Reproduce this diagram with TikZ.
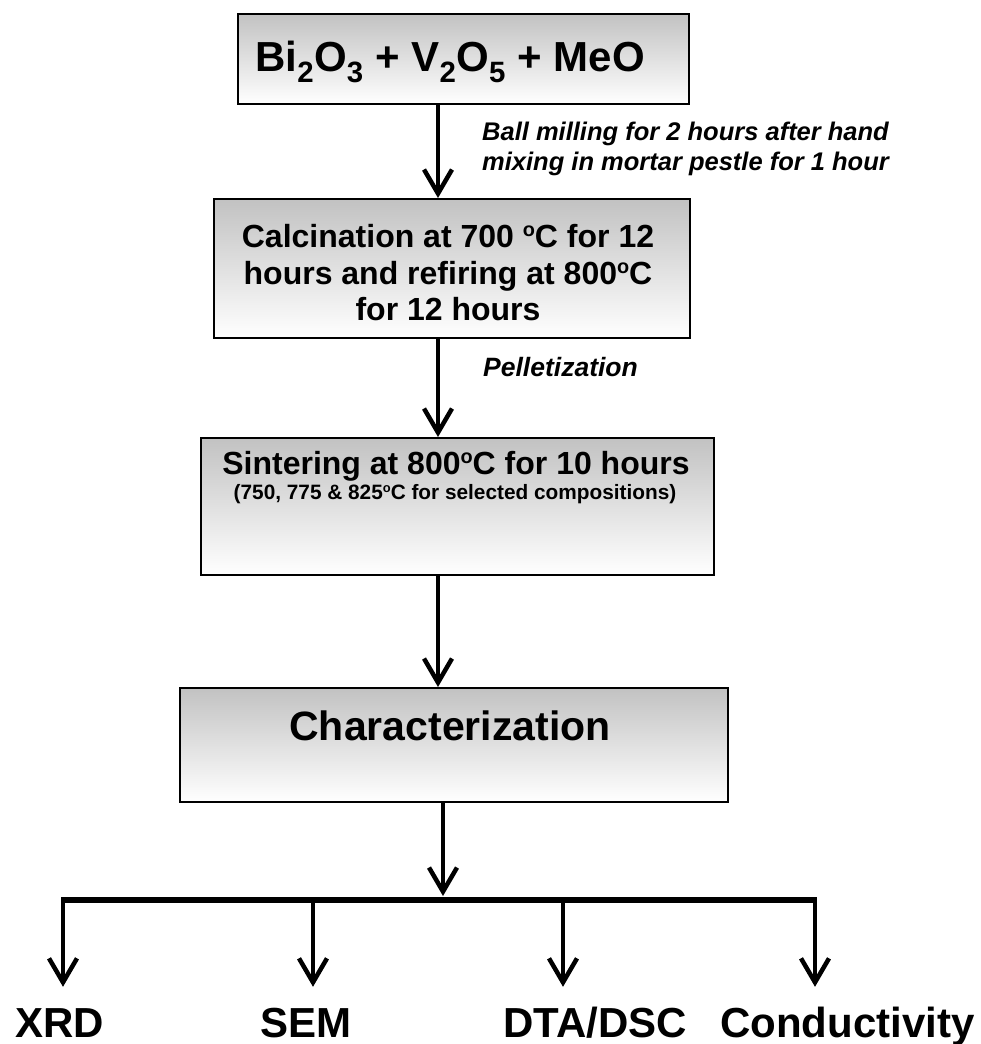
\documentclass[tikz,border=0pt]{standalone}
\usepackage{fontspec}
\setmainfont{Liberation Sans}
\usetikzlibrary{arrows.meta}
\newcommand{\dg}{\raisebox{0.62ex}{\scalebox{0.62}{o}}}
\begin{document}
\begin{tikzpicture}[x=1pt,y=-1pt,
  box/.style={draw=black, line width=1.8pt, top color=black!24, bottom color=white, inner sep=0pt, anchor=north west},
  arr/.style={line width=4.5pt, -{Straight Barb[length=24pt,width=28pt]}},
  txt/.style={inner sep=0pt, anchor=base, font=\bfseries},
  lbl/.style={inner sep=0pt, anchor=base west, font=\bfseries\itshape\fontsize{25.5}{30}\selectfont},
  res/.style={inner sep=0pt, anchor=base west, font=\bfseries\fontsize{42}{48}\selectfont, text height=31pt}]
\useasboundingbox (0,0) rectangle (980,1044);
\fill[white] (0,0) rectangle (980,1044);
% boxes
\node[box, minimum width=451pt, minimum height=90pt] (b1) at (237,13) {};
\node[box, minimum width=476pt, minimum height=139pt] (b2) at (213,198) {};
\node[box, minimum width=513pt, minimum height=137pt] (b3) at (200,437) {};
\node[box, minimum width=548pt, minimum height=114pt] (b4) at (179,687) {};
% box texts
\node[txt, font=\bfseries\fontsize{42}{48}\selectfont] (t1) at (450,71)
  {Bi\textsubscript{2}O\textsubscript{3} + V\textsubscript{2}O\textsubscript{5} + MeO};
\node[txt, font=\bfseries\fontsize{32}{37}\selectfont] (t2a) at (448,247) {Calcination at 700 \dg C for 12};
\node[txt, font=\bfseries\fontsize{32}{37}\selectfont] (t2b) at (448,284) {hours and refiring at 800\dg C};
\node[txt, font=\bfseries\fontsize{32}{37}\selectfont] (t2c) at (448,320) {for 12 hours};
\node[txt, font=\bfseries\fontsize{32}{36}\selectfont] (t3a) at (456,474) {Sintering at 800\dg C for 10 hours};
\node[txt, font=\bfseries\fontsize{20.8}{24}\selectfont] (t3b) at (455,499) {(750, 775 \& 825\dg C for selected compositions)};
\node[txt, font=\bfseries\fontsize{41}{46}\selectfont] (t4) at (450,740) {Characterization};
% side labels
\node[lbl] (l1a) at (482,140) {Ball milling for 2 hours after hand};
\node[lbl] (l1b) at (482,170) {mixing in mortar pestle for 1 hour};
\node[lbl, font=\bfseries\itshape\fontsize{26.5}{30}\selectfont] (l2) at (483,376) {Pelletization};
% arrows between boxes
\coordinate (a1) at (438,0);
\coordinate (a3) at (438,0);
\coordinate (a4) at (443,0);
\draw[arr] (b1.south -| a1) -- (b2.north -| a1);
\draw[arr] (b2.south -| a1) -- (b3.north -| a1);
\draw[arr] (b3.south -| a3) -- (b4.north -| a3);
% branch
\coordinate (jl) at (63,900);
\coordinate (jr) at (815,900);
\coordinate (j2) at (313,900);
\coordinate (j3) at (563,900);
\coordinate (jm) at (443,900);
\draw[arr, shorten >=4pt] (b4.south -| a4) -- (jm);
\draw[line width=5.5pt] ([xshift=-2pt]jl) -- ([xshift=2pt]jr);
% results
\node[res] (r1) at (15,1037) {XRD};
\node[res] (r2) at (260,1037) {SEM};
\node[res] (r3) at (503,1037) {DTA/DSC};
\node[res] (r4) at (720,1037) {Conductivity};
\draw[arr, shorten >=19pt] (jl) -- (jl |- r1.north);
\draw[arr, shorten >=19pt] (j2) -- (j2 |- r2.north);
\draw[arr, shorten >=19pt] (j3) -- (j3 |- r3.north);
\draw[arr, shorten >=19pt] (jr) -- (jr |- r4.north);
\end{tikzpicture}
\end{document}
